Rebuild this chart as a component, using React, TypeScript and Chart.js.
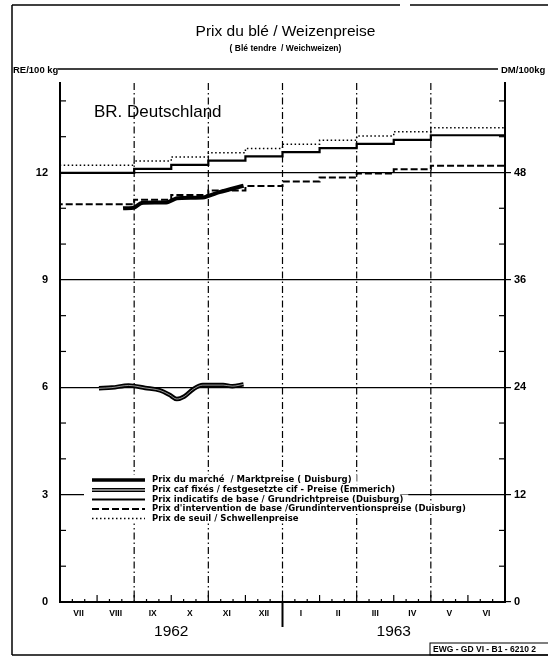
import React, { useEffect, useRef } from "react";
import { Chart, registerables } from "chart.js";

Chart.register(...registerables);

// ---------- data ----------
const MONTH_LABELS = ["VII", "VIII", "IX", "X", "XI", "XII", "I", "II", "III", "IV", "V", "VI"];
const YEAR_LABELS = ["1962", "1963"];
const RE_TICKS = [0, 3, 6, 9, 12];
const DM_PER_RE = 4;
const Y_MAX = 14.5;
const VGRID = [2, 4, 6, 8, 10];

// month positions where the fixed prices change (0 = 1 July 1962)
const STEP_X = [0, 2, 3, 4, 5, 6, 7, 8, 9, 10, 11, 12];
const THRESHOLD = [12.08, 12.2, 12.32, 12.43, 12.55, 12.67, 12.79, 12.9, 13.02, 13.14, 13.25, 13.25];
const INDICATIVE = [11.87, 11.99, 12.1, 12.21, 12.33, 12.45, 12.57, 12.68, 12.8, 12.91, 13.04, 13.04];
const INTERVENTION = [10.99, 11.11, 11.24, 11.37, 11.5, 11.62, 11.75, 11.86, 11.97, 12.09, 12.19, 12.19];

const MARKET_X = [1.7, 2.0, 2.2, 2.9, 3.15, 3.9, 4.3, 4.95];
const MARKET = [11.0, 11.02, 11.15, 11.17, 11.28, 11.31, 11.45, 11.63];

const CIF_X = [1.05, 1.4, 1.85, 2.3, 2.7, 2.95, 3.15, 3.35, 3.6, 3.85, 4.4, 4.65, 4.95];
const CIF = [5.97, 5.99, 6.05, 5.98, 5.91, 5.79, 5.67, 5.74, 5.95, 6.06, 6.06, 6.03, 6.08];

const LEGEND_LABELS = [
  "Prix du marché  / Marktpreise ( Duisburg)",
  "Prix caf fixés / festgesetzte cif - Preise (Emmerich)",
  "Prix indicatifs de base / Grundrichtpreise (Duisburg)",
  "Prix d'intervention de base /Grundinterventionspreise (Duisburg)",
  "Prix de seuil / Schwellenpreise",
];

const TITLE = "Prix du blé / Weizenpreise";
const SUBTITLE = "( Blé tendre  / Weichweizen)";
const LEFT_UNIT = "RE/100 kg";
const RIGHT_UNIT = "DM/100kg";
const COUNTRY = "BR. Deutschland";
const REF_CODE = "EWG - GD VI - B1 - 6210 2";

const FONT = "'Liberation Sans', Arial, sans-serif";
const LEGEND_FONT = "'DejaVu Sans', sans-serif";

const pts = (xs: number[], ys: number[]) => xs.map((x, i) => ({ x, y: ys[i] }));

const decor = {
  id: "decor",
  beforeDatasetsDraw(chart: any) {
    const { ctx, chartArea: a, scales } = chart;
    const sx = scales.x;
    const sy = scales.y;
    const line = (x1: number, y1: number, x2: number, y2: number) => {
      ctx.beginPath();
      ctx.moveTo(x1, y1);
      ctx.lineTo(x2, y2);
      ctx.stroke();
    };
    ctx.save();
    ctx.strokeStyle = "#000";
    ctx.lineWidth = 1.2;
    ctx.setLineDash([7, 3, 1.5, 3]);
    for (const m of VGRID) {
      const px = sx.getPixelForValue(m);
      line(px, a.top, px, a.bottom);
    }
    ctx.setLineDash([]);
    ctx.lineWidth = 1.2;
    for (let v = 1; v <= 14; v++) {
      if (v % 3 === 0) continue;
      const py = sy.getPixelForValue(v);
      line(a.left, py, a.left + 6, py);
      line(a.right - 6, py, a.right, py);
    }
    for (let k = 1; k < 36; k++) {
      const px = sx.getPixelForValue(k / 3);
      const len = k % 3 === 0 ? 7 : 3;
      line(px, a.bottom, px, a.bottom - len);
    }
    ctx.restore();
  },
  afterDraw(chart: any) {
    const { ctx, chartArea: a, scales } = chart;
    const sx = scales.x;
    const W = chart.width;
    const H = chart.height;
    const line = (x1: number, y1: number, x2: number, y2: number) => {
      ctx.beginPath();
      ctx.moveTo(x1, y1);
      ctx.lineTo(x2, y2);
      ctx.stroke();
    };
    ctx.save();
    ctx.fillStyle = "#000";
    ctx.strokeStyle = "#000";

    // outer frame
    ctx.lineWidth = 1.5;
    line(12, 5, 400, 5);
    line(410, 5, W, 5);
    line(12, 5, 12, H - 3);
    line(12, H - 3, W, H - 3);

    // top rule
    ctx.lineWidth = 1.5;
    line(58, 69, a.right - 7, 69);

    // titles
    ctx.textBaseline = "middle";
    ctx.textAlign = "center";
    const cx = (a.left + a.right) / 2 + 3;
    ctx.font = `15.5px ${FONT}`;
    ctx.fillText(TITLE, cx, 32);
    ctx.font = `bold 8.5px ${FONT}`;
    ctx.fillText(SUBTITLE, cx, 49);

    ctx.textAlign = "left";
    ctx.font = `bold 9.5px ${FONT}`;
    ctx.fillText(LEFT_UNIT, 13, 70);
    ctx.fillText(RIGHT_UNIT, 501, 70);

    ctx.font = `17px ${FONT}`;
    ctx.fillText(COUNTRY, 94, 112);

    // year labels and divider
    ctx.textAlign = "center";
    ctx.font = `15.5px ${FONT}`;
    YEAR_LABELS.forEach((t, i) => {
      ctx.fillText(t, sx.getPixelForValue(i * 6 + 3), 632);
    });
    ctx.lineWidth = 2;
    const dx = sx.getPixelForValue(6);
    line(dx, a.bottom, dx, a.bottom + 25);

    // legend
    const rowY = [480, 490, 499.5, 509, 518.5];
    const sx1 = 92;
    const sx2 = 145;
    const tx = 152;
    ctx.font = `bold 8.5px ${LEGEND_FONT}`;
    ctx.textAlign = "left";
    LEGEND_LABELS.forEach((t, i) => {
      const y = rowY[i];
      const w = ctx.measureText(t).width;
      ctx.fillStyle = "#fff";
      ctx.fillRect(sx1 - 8, y - 5, tx - sx1 + 8 + w + 5, 10);
      ctx.fillStyle = "#000";
      ctx.fillText(t, tx, y);
    });
    const sample = (i: number, width: number, dash: number[], color = "#000") => {
      ctx.strokeStyle = color;
      ctx.lineWidth = width;
      ctx.setLineDash(dash);
      line(sx1, rowY[i], sx2, rowY[i]);
      ctx.setLineDash([]);
    };
    sample(0, 3.5, []);
    sample(1, 4, []);
    sample(1, 1, [], "#fff");
    sample(2, 1.8, []);
    sample(3, 2, [7, 3]);
    sample(4, 1.5, [1.5, 2.5]);

    // reference code box
    ctx.strokeStyle = "#000";
    ctx.lineWidth = 1;
    ctx.strokeRect(430, 643, W - 428, 12);
    ctx.fillStyle = "#000";
    ctx.font = `bold 8.5px ${FONT}`;
    ctx.textAlign = "left";
    ctx.fillText(REF_CODE, 433, 649.5);
    ctx.restore();
  },
};

export default function App() {
  const ref = useRef<HTMLCanvasElement | null>(null);
  useEffect(() => {
    const canvas = ref.current;
    if (!canvas) return;
    const tickFont = { family: FONT, size: 11, weight: "bold" as const };
    const chart = new Chart(canvas, {
      type: "line",
      data: {
        datasets: [
          {
            label: LEGEND_LABELS[4],
            data: pts(STEP_X, THRESHOLD),
            stepped: "after",
            borderColor: "#000",
            borderWidth: 1.5,
            borderDash: [1.5, 2.5],
            pointRadius: 0,
            order: 4,
          },
          {
            label: LEGEND_LABELS[2],
            data: pts(STEP_X, INDICATIVE),
            stepped: "after",
            borderColor: "#000",
            borderWidth: 2.2,
            pointRadius: 0,
            order: 3,
          },
          {
            label: LEGEND_LABELS[3],
            data: pts(STEP_X, INTERVENTION),
            stepped: "after",
            borderColor: "#000",
            borderWidth: 2,
            borderDash: [7, 3],
            pointRadius: 0,
            order: 5,
          },
          {
            label: LEGEND_LABELS[0],
            data: pts(MARKET_X, MARKET),
            borderColor: "#000",
            borderWidth: 4,
            pointRadius: 0,
            tension: 0.2,
            order: 2,
          },
          {
            label: LEGEND_LABELS[1],
            data: pts(CIF_X, CIF),
            borderColor: "#000",
            borderWidth: 4.5,
            pointRadius: 0,
            cubicInterpolationMode: "monotone",
            order: 1,
          },
          {
            label: LEGEND_LABELS[1] + " ",
            data: pts(CIF_X, CIF),
            borderColor: "rgba(255,255,255,0.85)",
            borderWidth: 0.7,
            pointRadius: 0,
            cubicInterpolationMode: "monotone",
            order: 0,
          },
        ],
      },
      options: {
        responsive: false,
        animation: false,
        events: [],
        layout: { padding: { top: 83, left: 0, right: 0, bottom: 0 } },
        plugins: {
          legend: { display: false },
          tooltip: { enabled: false },
          title: { display: false },
        },
        scales: {
          x: {
            type: "linear",
            min: 0,
            max: 12,
            afterFit: (s: any) => {
              s.height = 56;
            },
            afterBuildTicks: (s: any) => {
              s.ticks = MONTH_LABELS.map((_, i) => ({ value: i + 0.5 }));
            },
            ticks: {
              callback: (v: any) => MONTH_LABELS[Math.floor(Number(v))],
              font: { family: FONT, size: 8.5, weight: "bold" },
              color: "#000",
              maxRotation: 0,
              autoSkip: false,
              padding: 7,
            },
            grid: { display: false, drawTicks: false },
            border: { display: true, color: "#000", width: 2 },
          },
          y: {
            position: "left",
            min: 0,
            max: Y_MAX,
            afterFit: (s: any) => {
              s.width = 60;
            },
            afterBuildTicks: (s: any) => {
              s.ticks = RE_TICKS.map((v) => ({ value: v }));
            },
            ticks: { font: tickFont, color: "#000", padding: 12 },
            grid: {
              color: (c: any) => (c.tick && c.tick.value === 0 ? "rgba(0,0,0,0)" : "#000"),
              lineWidth: 1.2,
              drawTicks: false,
            },
            border: { display: true, color: "#000", width: 2 },
          },
          y2: {
            position: "right",
            min: 0,
            max: Y_MAX * DM_PER_RE,
            afterFit: (s: any) => {
              s.width = 43;
            },
            afterBuildTicks: (s: any) => {
              s.ticks = RE_TICKS.map((v) => ({ value: v * DM_PER_RE }));
            },
            ticks: { font: tickFont, color: "#000", padding: 3 },
            grid: { drawOnChartArea: false, drawTicks: true, tickLength: 6, color: "#000", lineWidth: 1.2 },
            border: { display: true, color: "#000", width: 2 },
          },
        },
      },
      plugins: [decor],
    } as any);
    return () => chart.destroy();
  }, []);
  return (
    <div style={{ position: "fixed", left: 0, top: 0, width: 548, height: 658, background: "#fff" }}>
      <canvas ref={ref} width={548} height={658} style={{ width: 548, height: 658, display: "block" }} />
    </div>
  );
}
